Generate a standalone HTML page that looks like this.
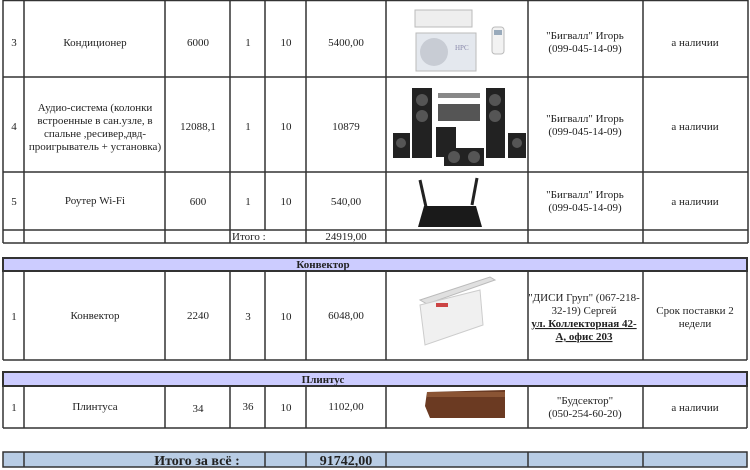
<!DOCTYPE html>
<html><head><meta charset="utf-8"><style>
html,body{margin:0;padding:0;background:#fff;}
svg{display:block;}
text{font-family:"Liberation Serif","Noto Serif CJK SC",serif;font-size:11px;fill:#222;}
.b{font-weight:bold;}
</style></head><body>
<svg width="750" height="470" viewBox="0 0 750 470" xmlns="http://www.w3.org/2000/svg">
<!-- fills -->
<rect x="3" y="258" width="744" height="13" fill="#ccccff"/>
<rect x="3" y="372" width="744" height="14" fill="#ccccff"/>
<rect x="3" y="452" width="744" height="15" fill="#b8cce4"/>
<g stroke="#333" stroke-width="1.5" fill="none">
<!-- top table -->
<line x1="3" y1="0.5" x2="748" y2="0.5"/>
<line x1="3" y1="77" x2="748" y2="77"/>
<line x1="3" y1="172" x2="748" y2="172"/>
<line x1="3" y1="230" x2="748" y2="230"/>
<line x1="3" y1="243" x2="748" y2="243"/>
<line x1="3" y1="0" x2="3" y2="243"/>
<line x1="24" y1="0" x2="24" y2="243"/>
<line x1="165" y1="0" x2="165" y2="243"/>
<line x1="230" y1="0" x2="230" y2="243"/>
<line x1="265" y1="0" x2="265" y2="230"/>
<line x1="306" y1="0" x2="306" y2="243"/>
<line x1="386" y1="0" x2="386" y2="243"/>
<line x1="528" y1="0" x2="528" y2="243"/>
<line x1="643" y1="0" x2="643" y2="243"/>
<line x1="748" y1="0" x2="748" y2="243"/>
<!-- konvektor -->
<rect x="3" y="258" width="744" height="13" stroke-width="2"/>
<line x1="3" y1="360" x2="747" y2="360"/>
<line x1="3" y1="271" x2="3" y2="360"/>
<line x1="24" y1="271" x2="24" y2="360"/>
<line x1="165" y1="271" x2="165" y2="360"/>
<line x1="230" y1="271" x2="230" y2="360"/>
<line x1="265" y1="271" x2="265" y2="360"/>
<line x1="306" y1="271" x2="306" y2="360"/>
<line x1="386" y1="271" x2="386" y2="360"/>
<line x1="528" y1="271" x2="528" y2="360"/>
<line x1="643" y1="271" x2="643" y2="360"/>
<line x1="747" y1="271" x2="747" y2="360"/>
<!-- plintus -->
<rect x="3" y="372" width="744" height="14" stroke-width="2"/>
<line x1="3" y1="428" x2="747" y2="428"/>
<line x1="3" y1="386" x2="3" y2="428"/>
<line x1="24" y1="386" x2="24" y2="428"/>
<line x1="165" y1="386" x2="165" y2="428"/>
<line x1="230" y1="386" x2="230" y2="428"/>
<line x1="265" y1="386" x2="265" y2="428"/>
<line x1="306" y1="386" x2="306" y2="428"/>
<line x1="386" y1="386" x2="386" y2="428"/>
<line x1="528" y1="386" x2="528" y2="428"/>
<line x1="643" y1="386" x2="643" y2="428"/>
<line x1="747" y1="386" x2="747" y2="428"/>
<!-- final -->
<rect x="3" y="452" width="744" height="15"/>
<line x1="24" y1="452" x2="24" y2="467"/>
<line x1="265" y1="452" x2="265" y2="467"/>
<line x1="306" y1="452" x2="306" y2="467"/>
<line x1="386" y1="452" x2="386" y2="467"/>
<line x1="528" y1="452" x2="528" y2="467"/>
<line x1="643" y1="452" x2="643" y2="467"/>
</g>
<!-- text top table -->
<g text-anchor="middle">
<text x="14" y="46">3</text><text x="95" y="46">Кондиционер</text><text x="198" y="46">6000</text><text x="248" y="46">1</text><text x="286" y="46">10</text><text x="346" y="46">5400,00</text>
<text x="585" y="39">"Бигвалл" Игорь</text><text x="585" y="52">(099-045-14-09)</text><text x="695" y="46">а наличии</text>
<text x="14" y="130">4</text>
<text x="95" y="111">Аудио-система (колонки</text><text x="95" y="124">встроенные в сан.узле, в</text><text x="95" y="137">спальне ,ресивер,двд-</text><text x="95" y="150">проигрыватель + установка)</text>
<text x="198" y="130">12088,1</text><text x="248" y="130">1</text><text x="286" y="130">10</text><text x="346" y="130">10879</text>
<text x="585" y="122">"Бигвалл" Игорь</text><text x="585" y="135">(099-045-14-09)</text><text x="695" y="130">а наличии</text>
<text x="14" y="205">5</text><text x="95" y="204">Роутер Wi-Fi</text><text x="198" y="205">600</text><text x="248" y="205">1</text><text x="286" y="205">10</text><text x="346" y="205">540,00</text>
<text x="585" y="198">"Бигвалл" Игорь</text><text x="585" y="211">(099-045-14-09)</text><text x="695" y="205">а наличии</text>
<text x="346" y="240">24919,00</text>
</g>
<text x="232" y="240">Итого :</text>
<!-- konvektor -->
<g text-anchor="middle">
<text class="b" x="323" y="268">Конвектор</text>
<text x="14" y="320">1</text><text x="95" y="319">Конвектор</text><text x="198" y="319">2240</text><text x="248" y="320">3</text><text x="286" y="320">10</text><text x="346" y="319">6048,00</text>
<text x="584" y="301">"ДИСИ Груп"  (067-218-</text><text x="584" y="314">32-19) Сергей</text>
<text class="b" x="584" y="327" text-decoration="underline">ул. Коллекторная 42-</text><text class="b" x="584" y="340" text-decoration="underline">А, офис 203</text>
<text x="695" y="314">Срок поставки 2</text><text x="695" y="327">недели</text>
<text class="b" x="323" y="383">Плинтус</text>
<text x="14" y="411">1</text><text x="95" y="410">Плинтуса</text><text x="198" y="412">34</text><text x="248" y="410">36</text><text x="286" y="411">10</text><text x="346" y="410">1102,00</text>
<text x="585" y="404">"Будсектор"</text><text x="585" y="417">(050-254-60-20)</text><text x="695" y="411">а наличии</text>
<text class="b" x="197" y="465" style="font-size:14px">Итого за всё :</text>
<text class="b" x="346" y="465" style="font-size:14px">91742,00</text>
</g>
<!-- images: AC -->
<rect x="415" y="10" width="57" height="17" fill="#eee" stroke="#bbb"/>
<rect x="416" y="33" width="60" height="38" fill="#e4e8ee" stroke="#bbb"/>
<circle cx="434" cy="52" r="14" fill="#c8ccd4"/>
<text x="455" y="50" style="font-size:7px;fill:#88a">HPC</text>
<rect x="492" y="27" width="12" height="27" rx="3" fill="#f2f2f2" stroke="#bbb"/>
<rect x="494" y="30" width="8" height="5" fill="#9ab"/>
<!-- audio -->
<g fill="#222">
<rect x="393" y="133" width="17" height="25"/><rect x="412" y="88" width="20" height="70"/>
<rect x="438" y="93" width="42" height="5" fill="#888"/><rect x="438" y="104" width="42" height="17" fill="#555"/>
<rect x="436" y="127" width="20" height="30"/><rect x="444" y="148" width="40" height="18"/>
<rect x="486" y="88" width="19" height="70"/><rect x="508" y="133" width="18" height="25"/>
</g>
<g fill="#555"><circle cx="422" cy="100" r="6"/><circle cx="422" cy="116" r="6"/><circle cx="495" cy="100" r="6"/><circle cx="495" cy="116" r="6"/><circle cx="401" cy="143" r="5"/><circle cx="517" cy="143" r="5"/><circle cx="454" cy="157" r="6"/><circle cx="474" cy="157" r="6"/></g>
<!-- router -->
<g stroke="#222" stroke-width="3"><line x1="420" y1="180" x2="426" y2="207"/><line x1="477" y1="178" x2="472" y2="205"/></g>
<path d="M418 227 L424 206 L476 206 L482 227 Z" fill="#1a1a1a"/>
<!-- convector -->
<path d="M420 300 L490 277 L495 280 L427 304 Z" fill="#e0e0e0" stroke="#bbb"/>
<path d="M420 305 L480 290 L483 325 L425 345 Z" fill="#f0f0f0" stroke="#ccc"/>
<rect x="436" y="303" width="12" height="4" fill="#c44"/>
<!-- plinth -->
<path d="M427 392 L505 390 L505 418 L430 418 L425 406 Z" fill="#6b3a22"/>
<rect x="427" y="392" width="78" height="5" fill="#8a5434"/>
</svg>
</body></html>
